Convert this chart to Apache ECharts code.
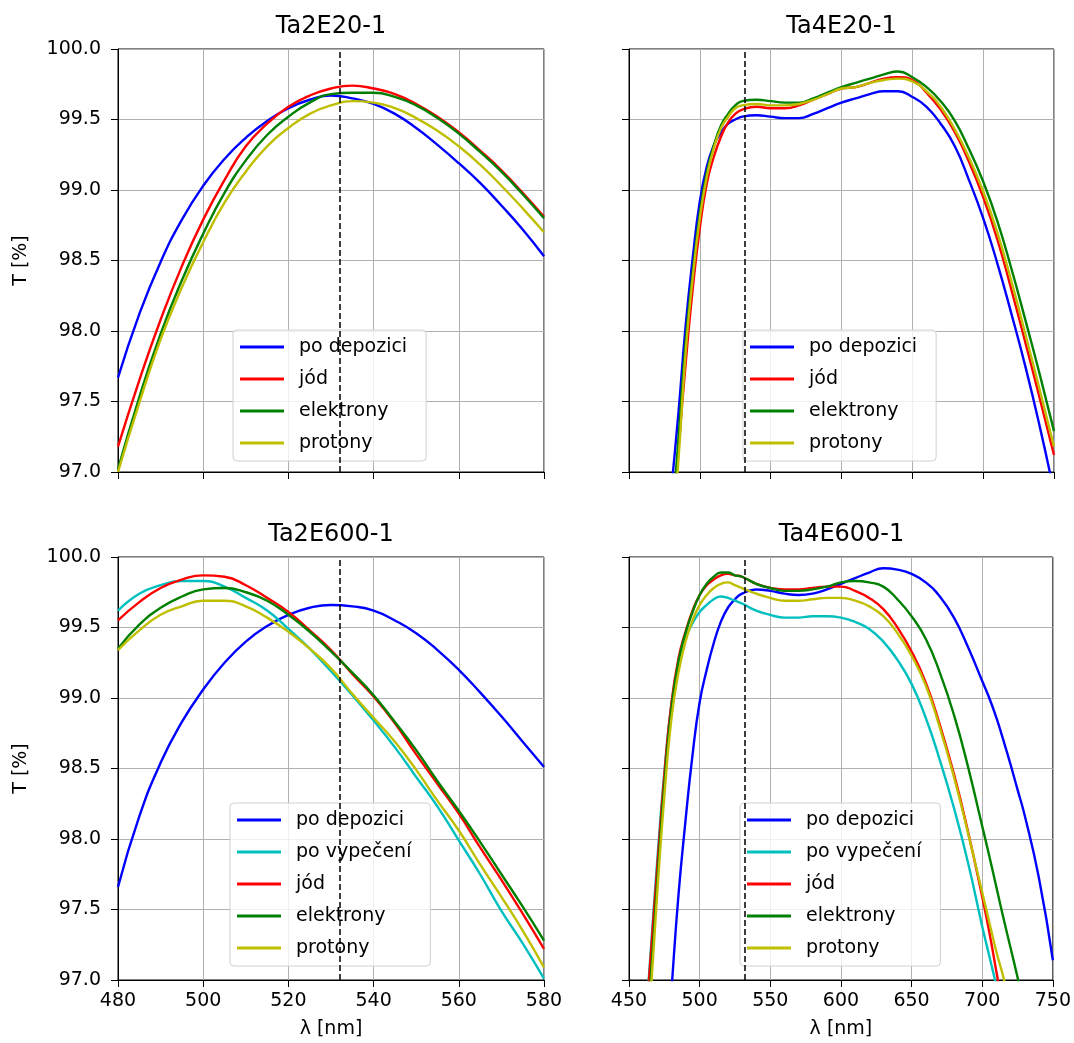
<!DOCTYPE html>
<html>
<head>
<meta charset="utf-8">
<title>Transmise vzorků Ta2 / Ta4</title>
<script src="https://cdn.jsdelivr.net/npm/echarts@6/dist/echarts.min.js"></script>
<style>
  html, body { margin: 0; padding: 0; background: #fff; }
  #chart { width: 1074px; height: 1043px; }
</style>
</head>
<body>
<div id="chart"></div>
<script>
// vlnové délky [nm]
const wlLeft = [480, 485, 490, 495, 500, 505, 510, 515, 520, 525, 530, 535, 540, 545, 550, 555, 560, 565, 570, 575, 580]
const wlTa4E20 = [475, 480, 485, 490, 495, 500, 505, 510, 515, 520, 525, 530, 540, 550, 560, 570, 580, 590, 600, 610, 620, 630, 640, 650, 660, 670, 680, 690, 700, 710, 720, 730, 740, 750]
const wlTa4E600 = [455, 460, 465, 470, 475, 480, 485, 490, 495, 500, 505, 510, 515, 520, 525, 530, 540, 550, 560, 570, 580, 590, 600, 610, 620, 630, 640, 650, 660, 670, 680, 690, 700, 705, 710, 715, 720, 725, 730, 740, 750]

// Ta2E20-1
const ta2e20Depozici = [97.67, 98.12, 98.49, 98.79, 99.03, 99.22, 99.37, 99.49, 99.58, 99.64, 99.67, 99.65, 99.61, 99.54, 99.44, 99.32, 99.19, 99.05, 98.89, 98.72, 98.53]
const ta2e20Jod = [97.18, 97.65, 98.08, 98.46, 98.79, 99.07, 99.31, 99.47, 99.59, 99.67, 99.72, 99.74, 99.72, 99.68, 99.61, 99.52, 99.41, 99.28, 99.14, 98.98, 98.81]
const ta2e20Elektrony = [97.02, 97.53, 97.98, 98.36, 98.69, 98.98, 99.21, 99.39, 99.52, 99.62, 99.68, 99.69, 99.69, 99.66, 99.60, 99.51, 99.40, 99.27, 99.13, 98.97, 98.80]
const ta2e20Protony = [97.00, 97.49, 97.94, 98.31, 98.63, 98.91, 99.13, 99.31, 99.44, 99.54, 99.60, 99.63, 99.62, 99.58, 99.51, 99.42, 99.31, 99.18, 99.03, 98.87, 98.70]

// Ta4E20-1
const ta4e20Depozici = [96.35, 96.89, 97.43, 98.04, 98.52, 98.92, 99.17, 99.32, 99.41, 99.47, 99.50, 99.52, 99.53, 99.52, 99.51, 99.51, 99.54, 99.58, 99.62, 99.65, 99.68, 99.70, 99.70, 99.66, 99.59, 99.47, 99.31, 99.07, 98.80, 98.48, 98.12, 97.74, 97.32, 96.86]
const ta4e20Jod = [96.00, 96.55, 97.17, 97.77, 98.30, 98.73, 99.05, 99.24, 99.38, 99.48, 99.54, 99.57, 99.59, 99.58, 99.58, 99.60, 99.64, 99.68, 99.72, 99.73, 99.76, 99.79, 99.80, 99.78, 99.69, 99.57, 99.41, 99.20, 98.95, 98.65, 98.29, 97.91, 97.52, 97.12]
const ta4e20Elektrony = [96.00, 96.60, 97.25, 97.93, 98.42, 98.84, 99.13, 99.32, 99.46, 99.54, 99.60, 99.63, 99.64, 99.63, 99.62, 99.62, 99.65, 99.69, 99.73, 99.76, 99.79, 99.82, 99.84, 99.80, 99.73, 99.63, 99.49, 99.29, 99.06, 98.78, 98.44, 98.07, 97.69, 97.29]
const ta4e20Protony = [95.90, 96.45, 97.10, 97.85, 98.38, 98.80, 99.10, 99.30, 99.44, 99.52, 99.58, 99.60, 99.61, 99.60, 99.60, 99.61, 99.64, 99.68, 99.72, 99.73, 99.76, 99.78, 99.79, 99.77, 99.70, 99.59, 99.43, 99.23, 98.99, 98.70, 98.35, 97.97, 97.58, 97.18]

// Ta2E600-1
const ta2e600Depozici = [97.66, 98.16, 98.54, 98.83, 99.06, 99.25, 99.40, 99.51, 99.59, 99.64, 99.66, 99.65, 99.62, 99.55, 99.46, 99.34, 99.20, 99.04, 98.87, 98.69, 98.51]
const ta2e600Vypeceni = [99.62, 99.74, 99.80, 99.83, 99.83, 99.79, 99.71, 99.62, 99.49, 99.35, 99.19, 99.02, 98.84, 98.65, 98.44, 98.23, 97.99, 97.75, 97.49, 97.26, 97.01]
const ta2e600Jod = [99.55, 99.68, 99.78, 99.84, 99.87, 99.86, 99.80, 99.71, 99.61, 99.48, 99.34, 99.17, 99.01, 98.82, 98.60, 98.39, 98.18, 97.94, 97.71, 97.47, 97.22]
const ta2e600Elektrony = [99.35, 99.52, 99.64, 99.72, 99.77, 99.78, 99.75, 99.69, 99.59, 99.47, 99.33, 99.18, 99.02, 98.83, 98.63, 98.41, 98.20, 97.98, 97.75, 97.52, 97.28]
const ta2e600Protony = [99.34, 99.48, 99.59, 99.65, 99.69, 99.69, 99.65, 99.57, 99.47, 99.35, 99.21, 99.03, 98.86, 98.69, 98.49, 98.27, 98.06, 97.82, 97.59, 97.35, 97.09]

// Ta4E600-1 (null = mimo graf)
const ta4e600Depozici = [null, null, null, null, 96.22, 96.92, 97.60, 98.13, 98.60, 98.97, 99.20, 99.39, 99.54, 99.64, 99.70, 99.74, 99.77, 99.76, 99.74, 99.73, 99.74, 99.77, 99.81, 99.85, 99.89, 99.92, 99.91, 99.88, 99.82, 99.72, 99.57, 99.36, 99.12, 99.00, 98.86, 98.70, 98.53, 98.35, 98.17, 97.73, 97.14]
const ta4e600Vypeceni = [95.75, 96.45, 97.15, 97.85, 98.47, 98.96, 99.24, 99.42, 99.53, 99.61, 99.66, 99.70, 99.72, 99.71, 99.69, 99.67, 99.62, 99.59, 99.57, 99.57, 99.58, 99.58, 99.57, 99.54, 99.49, 99.40, 99.27, 99.10, 98.86, 98.56, 98.22, 97.83, 97.38, 97.17, 96.96, null, null, null, null, null, null]
const ta4e600Jod = [95.75, 96.45, 97.12, 97.80, 98.45, 98.96, 99.28, 99.47, 99.62, 99.73, 99.80, 99.84, 99.87, 99.88, 99.87, 99.86, 99.81, 99.78, 99.77, 99.77, 99.78, 99.79, 99.79, 99.76, 99.71, 99.63, 99.50, 99.33, 99.11, 98.81, 98.46, 98.05, 97.59, 97.34, 97.06, 96.78, null, null, null, null, null]
const ta4e600Elektrony = [95.60, 96.30, 96.96, 97.70, 98.38, 98.92, 99.26, 99.46, 99.61, 99.73, 99.81, 99.86, 99.89, 99.89, 99.87, 99.86, 99.81, 99.78, 99.76, 99.76, 99.77, 99.79, 99.82, 99.83, 99.82, 99.79, 99.70, 99.58, 99.42, 99.18, 98.88, 98.51, 98.09, 97.88, 97.66, 97.44, 97.23, 97.02, 96.80, null, null]
const ta4e600Protony = [95.50, 96.20, 96.85, 97.62, 98.30, 98.85, 99.18, 99.40, 99.55, 99.66, 99.73, 99.78, 99.81, 99.82, 99.80, 99.78, 99.74, 99.71, 99.69, 99.69, 99.70, 99.71, 99.71, 99.69, 99.65, 99.58, 99.46, 99.30, 99.09, 98.79, 98.44, 98.04, 97.62, 97.41, 97.20, 97.02, 96.80, null, null, null, null]

const laserLine = 532
const yTicks = [97.0, 97.5, 98.0, 98.5, 99.0, 99.5, 100.0]
const titles = ['Ta2E20-1', 'Ta4E20-1', 'Ta2E600-1', 'Ta4E600-1']
const names4 = ['po depozici', 'jód', 'elektrony', 'protony']
const names5 = ['po depozici', 'po vypečení', 'jód', 'elektrony', 'protony']

const font = 'DejaVu Sans'
const colors = {
    'po depozici': '#0000ff',
    'po vypečení': '#00bfbf',
    'jód': '#ff0000',
    'elektrony': '#008000',
    'protony': '#bfbf00'
}

// pozice os v pixelech
const grids = [
    { left: 118, top: 49, width: 426, height: 423 },
    { left: 629, top: 49, width: 425, height: 423 },
    { left: 118, top: 557, width: 426, height: 423 },
    { left: 629, top: 557, width: 425, height: 423 }
]

function pairs(xs, ys) {
    const out = []
    for (let i = 0; i < xs.length; i++) {
        if (ys[i] !== null) out.push([xs[i], ys[i]])
    }
    return out
}

function line(name, xs, ys, idx, last) {
    const s = {
        name: name,
        type: 'line',
        xAxisIndex: idx,
        yAxisIndex: idx,
        data: pairs(xs, ys),
        showSymbol: false,
        smooth: 0.5,
        clip: true,
        color: colors[name],
        lineStyle: { color: colors[name], width: 2.4 },
        itemStyle: { color: colors[name] },
        emphasis: { disabled: true }
    }
    if (last) {
        s.markLine = {
            silent: true,
            symbol: 'none',
            label: { show: false },
            lineStyle: { color: '#000', type: [6, 3], width: 1.5 },
            data: [{ xAxis: laserLine }]
        }
    }
    return s
}

function xAxis(idx, min, max, step, labels) {
    return {
        type: 'value', gridIndex: idx, min: min, max: max, interval: step,
        name: labels ? 'λ [nm]' : '',
        nameLocation: 'middle', nameGap: 40,
        nameTextStyle: { fontFamily: font, fontSize: 19, color: '#000' },
        axisLine: { lineStyle: { color: '#000', width: 1 } },
        axisTick: { show: true, inside: false, length: 7, lineStyle: { color: '#000' } },
        axisLabel: { show: labels, margin: 12, fontFamily: font, fontSize: 19, color: '#000' },
        splitLine: { show: true, lineStyle: { color: '#b0b0b0', width: 1 } }
    }
}

function yAxis(idx, labels) {
    return {
        type: 'value', gridIndex: idx, min: yTicks[0], max: yTicks[yTicks.length - 1], interval: 0.5,
        name: labels ? 'T [%]' : '',
        nameLocation: 'middle', nameGap: 87, nameRotate: 90,
        nameTextStyle: { fontFamily: font, fontSize: 19, color: '#000' },
        axisLine: { lineStyle: { color: '#000', width: 1 } },
        axisTick: { show: true, inside: false, length: 7, lineStyle: { color: '#000' } },
        axisLabel: { show: labels, margin: 17, fontFamily: font, fontSize: 19, color: '#000',
            formatter: v => v.toFixed(1) },
        splitLine: { show: true, lineStyle: { color: '#b0b0b0', width: 1 } }
    }
}

function legend(left, top, data) {
    return {
        orient: 'vertical', left: left, top: top, data: data,
        icon: 'rect', itemWidth: 44, itemHeight: 3, itemGap: 10,
        backgroundColor: 'rgba(255,255,255,0.8)',
        borderColor: '#d0d0d0', borderWidth: 1, borderRadius: 4,
        padding: [6, 19, 7, 7],
        selectedMode: false,
        textStyle: { fontFamily: font, fontSize: 19, color: '#000', lineHeight: 22, padding: [0, 0, 0, 10] }
    }
}

const myChart = echarts.init(document.getElementById('chart'), null, { renderer: 'canvas' })

const option = {
    backgroundColor: '#fff',
    animation: false,
    title: titles.map((t, i) => ({
        text: t,
        left: grids[i].left + grids[i].width / 2,
        top: grids[i].top - 34,
        textAlign: 'center',
        padding: 0,
        textStyle: { fontFamily: font, fontSize: 24, fontWeight: 'normal', color: '#000' }
    })),
    grid: grids.map(g => Object.assign({ show: true, borderColor: '#000', borderWidth: 1, containLabel: false }, g)),
    xAxis: [
        xAxis(0, 480, 580, 20, false),
        xAxis(1, 450, 750, 50, false),
        xAxis(2, 480, 580, 20, true),
        xAxis(3, 450, 750, 50, true)
    ],
    yAxis: [yAxis(0, true), yAxis(1, false), yAxis(2, true), yAxis(3, false)],
    legend: [
        legend(233, 330, names4),
        legend(743, 330, names4),
        legend(230, 803, names5),
        legend(740, 803, names5)
    ],
    series: [
        line('po depozici', wlLeft, ta2e20Depozici, 0),
        line('jód', wlLeft, ta2e20Jod, 0),
        line('elektrony', wlLeft, ta2e20Elektrony, 0),
        line('protony', wlLeft, ta2e20Protony, 0, true),

        line('po depozici', wlTa4E20, ta4e20Depozici, 1),
        line('jód', wlTa4E20, ta4e20Jod, 1),
        line('elektrony', wlTa4E20, ta4e20Elektrony, 1),
        line('protony', wlTa4E20, ta4e20Protony, 1, true),

        line('po depozici', wlLeft, ta2e600Depozici, 2),
        line('po vypečení', wlLeft, ta2e600Vypeceni, 2),
        line('jód', wlLeft, ta2e600Jod, 2),
        line('elektrony', wlLeft, ta2e600Elektrony, 2),
        line('protony', wlLeft, ta2e600Protony, 2, true),

        line('po depozici', wlTa4E600, ta4e600Depozici, 3),
        line('po vypečení', wlTa4E600, ta4e600Vypeceni, 3),
        line('jód', wlTa4E600, ta4e600Jod, 3),
        line('elektrony', wlTa4E600, ta4e600Elektrony, 3),
        line('protony', wlTa4E600, ta4e600Protony, 3, true)
    ]
}

myChart.setOption(option)
</script>
</body>
</html>
